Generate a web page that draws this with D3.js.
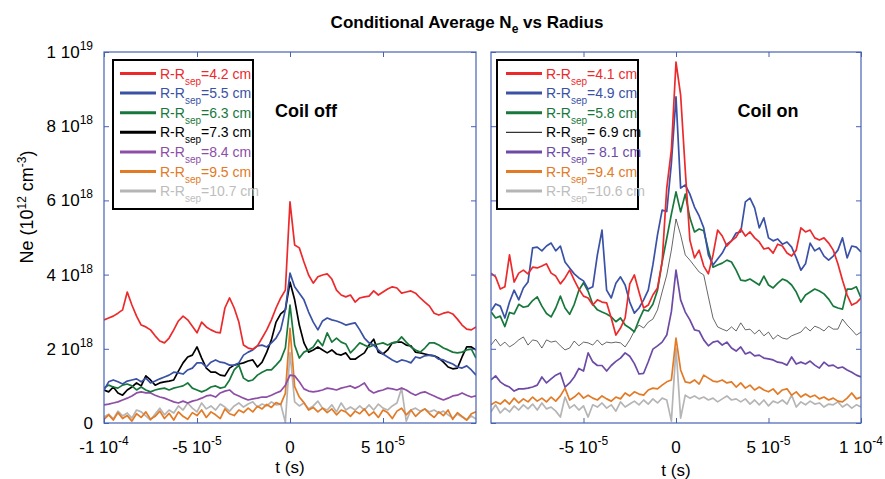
<!DOCTYPE html>
<html>
<head>
<meta charset="utf-8">
<script src="https://cdn.jsdelivr.net/npm/d3@7/dist/d3.min.js"></script>
<style>
body { margin: 0; background: #fff; }
text { font-family: "Liberation Sans", Arial, sans-serif; }
</style>
</head>
<body>
<script>
// Time samples (s), 2.5 us spacing
var times = d3.range(81).map(function(i){ return -1e-4 + i * 2.5e-6; });

// Density in units of 1e18 cm^-3, coil off
var off42 = [2.78,2.83,2.88,2.96,3.05,3.53,3.18,2.88,2.64,2.59,2.51,2.35,2.21,2.16,2.29,2.51,2.75,2.88,2.78,2.61,2.43,2.72,2.59,2.51,2.45,2.43,3.10,3.37,3.10,2.72,2.10,2.02,1.99,2.08,2.29,2.51,2.78,3.10,3.37,3.58,5.96,4.80,4.72,4.34,3.99,3.77,3.94,3.99,4.02,3.88,3.58,3.45,3.40,3.45,3.26,3.37,3.40,3.42,3.56,3.45,3.53,3.61,3.67,3.64,3.50,3.53,3.56,3.50,3.37,3.26,3.15,2.96,2.91,2.96,2.99,2.94,2.80,2.64,2.53,2.51,2.59];
var off55 = [0.89,1.11,1.16,1.11,1.05,1.13,1.16,1.19,1.11,1.21,1.08,1.13,1.19,1.24,1.29,1.37,1.35,1.32,1.43,1.48,1.62,1.62,1.51,1.64,1.70,1.64,1.62,1.56,1.56,1.62,1.83,1.91,1.97,2.08,2.10,2.05,2.16,2.29,2.51,3.05,4.04,3.67,3.50,3.32,2.99,2.72,2.51,2.75,2.83,2.78,2.75,2.70,2.64,2.67,2.70,2.51,2.29,2.16,2.10,1.97,1.86,1.78,1.70,1.64,1.70,1.67,1.62,1.78,1.75,1.81,1.83,1.81,1.72,1.70,1.64,1.59,1.51,1.48,1.54,1.43,1.29];
var off63 = [0.94,1.02,0.97,0.94,1.02,1.05,1.00,0.89,0.97,0.89,0.84,0.89,0.92,0.94,0.89,0.94,0.97,1.00,1.08,0.94,0.89,0.84,0.89,0.97,1.00,0.94,0.97,1.16,1.43,1.56,1.21,1.13,1.16,1.29,1.37,1.43,1.43,1.56,1.70,2.02,3.18,2.10,1.75,1.91,1.97,2.05,2.24,2.08,2.43,2.18,2.29,2.18,2.13,1.89,2.02,2.16,2.10,2.05,2.10,2.13,2.16,2.10,2.16,2.18,2.32,2.18,2.05,1.97,1.91,2.02,2.16,2.16,2.10,2.02,1.97,1.91,1.89,1.91,1.97,1.99,1.75];
var off73 = [0.89,0.84,0.97,0.81,0.75,0.89,0.97,1.08,1.00,1.27,1.16,1.02,1.08,1.11,1.13,1.16,1.40,1.62,1.78,1.83,2.05,1.75,1.48,1.37,1.37,1.29,1.27,1.48,1.56,1.59,1.62,1.67,1.70,1.51,1.64,1.91,2.24,2.72,2.94,3.05,3.80,3.32,2.64,2.16,1.91,1.97,2.05,1.97,1.89,1.97,1.86,1.83,1.89,1.72,1.72,1.81,1.89,2.10,2.26,1.91,1.86,1.97,2.16,2.18,2.18,2.10,2.08,1.91,1.89,1.86,1.83,1.81,1.75,1.64,1.51,1.46,1.48,1.78,2.05,2.05,1.97];
var off84 = [0.49,0.51,0.54,0.57,0.62,0.67,0.73,0.81,0.84,0.81,0.81,0.75,0.70,0.67,0.62,0.57,0.54,0.59,0.54,0.59,0.62,0.67,0.73,0.75,0.70,0.81,0.86,0.89,0.78,0.73,0.67,0.62,0.65,0.67,0.70,0.70,0.75,0.81,0.86,1.02,1.29,1.27,1.11,0.92,0.86,0.84,0.86,0.89,0.94,0.92,0.89,0.94,0.97,1.00,0.94,1.00,1.08,0.89,0.81,0.86,0.89,0.94,0.92,0.89,0.94,0.89,0.81,0.75,0.81,0.84,0.78,0.73,0.67,0.62,0.67,0.73,0.75,0.81,0.75,0.70,0.73];
var off95 = [0.10,0.22,0.08,0.28,0.12,0.20,0.05,0.25,0.15,0.30,0.10,0.18,0.32,0.12,0.26,0.08,0.30,0.18,0.10,0.28,0.20,0.35,0.15,0.30,0.22,0.12,0.38,0.25,0.20,0.35,0.28,0.40,0.30,0.45,0.38,0.50,0.42,0.55,0.50,0.80,2.55,0.98,0.70,0.55,0.35,0.42,0.30,0.40,0.28,0.38,0.22,0.35,0.30,0.18,0.32,0.25,0.38,0.20,0.30,0.15,0.35,0.28,0.12,0.32,0.40,0.22,0.35,0.18,0.30,0.38,0.25,0.15,0.30,0.20,0.35,0.10,0.28,0.18,0.08,0.25,0.30];
var off107 = [0.16,0.24,0.11,0.32,0.19,0.27,0.13,0.35,0.30,0.19,0.08,0.24,0.40,0.22,0.35,0.27,0.46,0.35,0.54,0.40,0.30,0.54,0.38,0.46,0.35,0.51,0.43,0.32,0.46,0.54,0.43,0.51,0.57,0.43,0.51,0.46,0.57,0.49,0.51,0.02,1.90,0.57,0.46,0.54,0.38,0.46,0.59,0.40,0.35,0.49,0.30,0.54,0.35,0.43,0.35,0.46,0.35,0.49,0.35,0.51,0.40,0.35,0.46,0.54,0.94,0.05,0.35,0.40,0.32,0.38,0.30,0.35,0.27,0.32,0.22,0.13,0.24,0.16,0.08,0.19,0.11];

// Coil on
var on41 = [4.04,3.94,3.61,3.67,4.53,3.80,4.04,4.12,4.02,4.20,4.18,4.23,4.29,4.04,3.96,3.75,3.91,4.12,3.85,3.61,3.42,3.37,3.18,3.32,3.26,3.24,2.83,2.37,2.56,2.83,3.75,3.99,3.53,3.10,3.18,3.45,3.64,4.34,6.33,7.36,9.73,8.84,6.82,4.93,4.45,4.66,4.23,4.02,4.53,5.20,5.04,4.77,4.91,5.01,5.23,5.04,5.15,4.99,4.88,4.69,4.72,4.58,4.82,4.77,4.58,4.50,4.66,5.26,5.15,5.20,4.99,4.93,4.99,4.85,4.66,4.29,3.85,3.45,3.18,3.24,3.37];
var on49 = [3.02,3.21,3.15,2.83,3.26,3.58,3.32,3.64,3.80,4.72,4.74,4.64,4.77,4.85,4.64,4.77,4.34,4.18,4.02,3.91,3.83,3.61,3.67,4.53,5.20,3.58,3.37,3.77,3.94,3.72,3.26,2.96,3.10,3.32,3.58,4.26,5.07,5.74,5.70,7.00,8.79,6.33,6.42,6.17,5.82,5.58,5.26,4.53,4.26,4.42,4.58,4.82,4.91,5.12,5.15,5.96,6.06,5.80,5.26,5.53,4.99,4.91,4.96,4.82,4.88,4.74,4.45,4.12,4.29,4.85,4.64,4.72,4.50,4.39,4.50,4.66,4.99,4.45,4.77,4.74,4.61];
var on58 = [3.00,2.83,2.88,2.60,2.98,2.94,3.20,3.12,3.15,3.30,3.40,3.15,2.95,2.86,3.10,3.42,3.10,2.93,3.20,3.58,3.78,3.55,3.20,3.05,2.99,2.94,2.86,2.73,2.83,2.64,2.56,2.46,2.78,3.05,3.02,3.20,3.58,4.34,4.98,5.63,6.23,5.69,6.17,5.53,5.15,5.23,5.18,4.66,4.20,4.26,4.31,4.39,4.34,4.12,3.85,3.83,3.88,3.80,3.72,3.96,3.72,3.64,3.77,3.88,3.83,3.72,3.53,3.26,3.45,3.53,3.61,3.56,3.48,3.34,3.15,3.10,3.07,3.61,3.61,3.67,3.37];
var on69 = [2.10,2.26,2.08,2.18,2.05,2.13,2.24,2.32,2.10,2.24,2.21,2.02,2.24,2.18,2.21,2.08,1.97,2.02,2.21,2.08,2.18,2.16,2.10,2.24,2.10,2.18,2.16,2.18,2.16,2.05,2.24,2.48,2.64,2.56,2.72,2.80,3.05,3.53,3.99,4.66,5.50,5.07,4.53,4.39,4.23,4.07,3.99,3.40,2.83,2.59,2.53,2.48,2.59,2.48,2.70,2.51,2.53,2.40,2.51,2.35,2.45,2.26,2.37,2.29,2.26,2.35,2.40,2.45,2.59,2.48,2.61,2.56,2.48,2.61,2.53,2.53,2.80,2.64,2.51,2.37,2.45];
var on81 = [1.16,1.27,1.11,1.02,0.97,0.86,0.92,0.92,0.94,0.97,1.02,1.24,1.08,1.19,1.29,1.35,0.97,1.08,1.24,1.47,1.40,1.89,1.65,1.55,1.55,1.40,1.55,1.66,1.75,1.89,1.80,1.60,1.32,1.34,1.65,1.99,2.08,2.18,2.37,3.00,4.12,3.32,2.99,2.78,2.51,2.48,2.24,2.08,2.18,2.21,2.10,2.18,2.02,1.94,2.05,1.86,1.91,1.81,1.83,1.75,1.73,1.70,1.64,1.62,1.56,1.78,1.59,1.64,1.59,1.67,1.56,1.48,1.64,1.54,1.56,1.48,1.51,1.43,1.37,1.29,1.24];
var on94 = [0.49,0.57,0.51,0.62,0.51,0.67,0.54,0.65,0.57,0.70,0.59,0.67,0.57,0.70,0.59,0.73,0.94,0.62,0.70,0.81,0.67,0.75,0.67,0.62,0.73,0.65,0.59,0.70,0.65,0.81,0.73,0.84,0.78,0.75,0.89,0.94,0.92,1.02,1.11,1.16,2.29,1.43,1.11,1.08,1.16,1.05,1.29,1.21,1.13,1.11,1.16,1.08,1.11,0.97,1.08,0.94,1.02,0.89,0.97,0.89,0.84,0.92,0.78,0.89,0.92,0.75,0.84,0.70,0.78,0.70,0.75,0.65,0.70,0.62,0.67,0.59,0.57,0.67,0.81,0.65,0.70];
var on106 = [0.30,0.49,0.27,0.40,0.30,0.46,0.35,0.49,0.38,0.51,0.35,0.54,0.38,0.43,0.32,0.16,0.70,0.40,0.49,0.35,0.46,0.16,0.49,0.43,0.54,0.40,0.49,0.32,0.57,0.43,0.51,0.59,0.49,0.62,0.51,0.65,0.54,0.67,0.62,0.05,2.02,0.13,0.75,0.67,0.73,0.65,0.70,0.62,0.67,0.57,0.65,0.73,0.62,0.65,0.57,0.65,0.51,0.62,0.49,0.62,0.46,0.59,0.54,0.62,0.51,0.75,0.43,0.57,0.49,0.59,0.51,0.54,0.43,0.51,0.49,0.57,0.43,0.51,0.40,0.49,0.43];

// Legend labels (text after R-R_sep)
var offLabels = ["=4.2 cm", "=5.5 cm", "=6.3 cm", "=7.3 cm", "=8.4 cm", "=9.5 cm", "=10.7 cm"];
var onLabels = ["=4.1 cm", "=4.9 cm", "=5.8 cm", "= 6.9 cm", "= 8.1 cm", "=9.4 cm", "=10.6 cm"];

// Tick values and labels [mantissa, exponent]
var yTickVals = [0, 2, 4, 6, 8, 10];
var yTickLabels = [["0", ""], ["2 10", "18"], ["4 10", "18"], ["6 10", "18"], ["8 10", "18"], ["1 10", "19"]];
var offXTickVals = [-1e-4, -5e-5, 0, 5e-5];
var offXTickLabels = [["-1 10", "-4"], ["-5 10", "-5"], ["0", ""], ["5 10", "-5"]];
var onXTickVals = [-5e-5, 0, 5e-5, 1e-4];
var onXTickLabels = [["-5 10", "-5"], ["0", ""], ["5 10", "-5"], ["1 10", "-4"]];

var width = 885, height = 479;
var yTop = 52, yBot = 423;
var axisColor = "#4662b2";

var offColors = ["#ec2a2c", "#3a51a6", "#18783c", "#000000", "#8d4ea6", "#e27a26", "#b5b5b5"];
var onColors = ["#ec2a2c", "#3a51a6", "#18783c", "#000000", "#6c4aa6", "#e27a26", "#b5b5b5"];
var onWidths = [1.7, 1.7, 1.7, 0.6, 1.7, 1.7, 1.7];

var svg = d3.select("body").append("svg")
	.attr("width", width)
	.attr("height", height);

var y = d3.scaleLinear().domain([0, 10]).range([yBot, yTop]);

// Title
var title = svg.append("text")
	.attr("x", 467)
	.attr("y", 28)
	.attr("text-anchor", "middle")
	.attr("font-size", "17px")
	.attr("font-weight", "bold");
title.append("tspan").text("Conditional Average N");
title.append("tspan").attr("font-size", "12px").attr("dy", 5).text("e");
title.append("tspan").attr("dy", -5).text(" vs Radius");

// Y axis label
var yl = svg.append("text")
	.attr("transform", "translate(33,207) rotate(-90)")
	.attr("text-anchor", "middle")
	.attr("font-size", "18px");
yl.append("tspan").text("Ne (10");
yl.append("tspan").attr("font-size", "12px").attr("dy", -7).text("12");
yl.append("tspan").attr("dy", 7).text(" cm");
yl.append("tspan").attr("font-size", "12px").attr("dy", -7).text("-3");
yl.append("tspan").attr("dy", 7).text(")");

drawPanel({
	x0: 104, x1: 476,
	series: [off42, off55, off63, off73, off84, off95, off107],
	colors: offColors,
	widths: [1.7, 1.7, 1.7, 1.7, 1.7, 1.7, 1.7],
	labels: offLabels,
	xTicks: offXTickVals, xLabels: offXTickLabels,
	yLabels: true,
	name: "Coil off", nameX: 306,
	legend: {x: 113, w: 140, lineX: 120, textX: 160},
	tLabelY: 473
});

drawPanel({
	x0: 491, x1: 861,
	series: [on41, on49, on58, on69, on81, on94, on106],
	colors: onColors,
	widths: onWidths,
	labels: onLabels,
	xTicks: onXTickVals, xLabels: onXTickLabels,
	yLabels: false,
	name: "Coil on", nameX: 768,
	legend: {x: 497, w: 141, lineX: 506, textX: 546},
	tLabelY: 476
});

function drawPanel(p){

	var x = d3.scaleLinear().domain([-1e-4, 1e-4]).range([p.x0, p.x1]);
	var g = svg.append("g");
	var clipId = "clip" + p.x0;

	g.append("clipPath").attr("id", clipId)
		.append("rect")
		.attr("x", p.x0).attr("y", yTop)
		.attr("width", p.x1 - p.x0).attr("height", yBot - yTop);

	// Curves, drawn bottom series first so the top ones stay in front
	var line = d3.line()
		.x(function(d, i){ return x(times[i]); })
		.y(function(d){ return y(d); });

	for (var k = p.series.length - 1; k >= 0; k--) {
		g.append("path")
			.datum(p.series[k])
			.attr("clip-path", "url(#" + clipId + ")")
			.attr("d", line)
			.attr("fill", "none")
			.attr("stroke", p.colors[k])
			.attr("stroke-width", p.widths[k])
			.attr("stroke-linejoin", "round");
	}

	// Ticks on all four sides, pointing inward
	var axes = [
		[d3.axisBottom(x).tickValues(p.xTicks), "translate(0," + yBot + ")"],
		[d3.axisTop(x).tickValues(p.xTicks), "translate(0," + yTop + ")"],
		[d3.axisLeft(y).tickValues(yTickVals), "translate(" + p.x0 + ",0)"],
		[d3.axisRight(y).tickValues(yTickVals), "translate(" + p.x1 + ",0)"]
	];
	axes.forEach(function(a){
		var ag = g.append("g")
			.attr("transform", a[1])
			.call(a[0].tickSize(-5).tickSizeOuter(0).tickFormat(""));
		ag.select(".domain").remove();
		ag.selectAll("line").attr("stroke", axisColor).attr("stroke-width", 1);
	});

	g.append("rect")
		.attr("x", p.x0).attr("y", yTop)
		.attr("width", p.x1 - p.x0).attr("height", yBot - yTop)
		.attr("fill", "none")
		.attr("stroke", axisColor)
		.attr("stroke-width", 1.2);

	// X tick labels
	p.xTicks.forEach(function(v, i){
		var t = g.append("text")
			.attr("x", x(v))
			.attr("y", 453)
			.attr("text-anchor", "middle")
			.attr("font-size", "17px");
		t.append("tspan").text(p.xLabels[i][0]);
		if (p.xLabels[i][1]) t.append("tspan").attr("font-size", "12px").attr("dy", -8).text(p.xLabels[i][1]);
	});

	// Y tick labels
	if (p.yLabels) {
		yTickVals.forEach(function(v, i){
			var t = g.append("text")
				.attr("x", 93)
				.attr("y", y(v) + 6)
				.attr("text-anchor", "end")
				.attr("font-size", "17px");
			t.append("tspan").text(yTickLabels[i][0]);
			if (yTickLabels[i][1]) t.append("tspan").attr("font-size", "12px").attr("dy", -8).text(yTickLabels[i][1]);
		});
	}

	g.append("text")
		.attr("x", x(0))
		.attr("y", p.tLabelY)
		.attr("text-anchor", "middle")
		.attr("font-size", "17px")
		.text("t (s)");

	g.append("text")
		.attr("x", p.nameX)
		.attr("y", 117)
		.attr("text-anchor", "middle")
		.attr("font-size", "18px")
		.attr("font-weight", "bold")
		.text(p.name);

	// Legend
	var lg = p.legend;
	g.append("rect")
		.attr("x", lg.x).attr("y", 60)
		.attr("width", lg.w).attr("height", 149)
		.attr("fill", "#fff")
		.attr("stroke", "#000")
		.attr("stroke-width", 2);

	p.labels.forEach(function(lab, k){
		var ly = 73.5 + k * 19.6;
		g.append("line")
			.attr("x1", lg.lineX).attr("x2", lg.lineX + 36)
			.attr("y1", ly).attr("y2", ly)
			.attr("stroke", p.colors[k])
			.attr("stroke-width", p.widths[k] < 1 ? 1 : 3);
		var t = g.append("text")
			.attr("x", lg.textX)
			.attr("y", ly + 5)
			.attr("font-size", "14px")
			.attr("fill", p.colors[k] == "#b5b5b5" ? "#bdbdbd" : p.colors[k]);
		t.append("tspan").text("R-R");
		t.append("tspan").attr("font-size", "10px").attr("dy", 6).text("sep");
		t.append("tspan").attr("dy", -6).text(lab);
	});
}
</script>
</body>
</html>
